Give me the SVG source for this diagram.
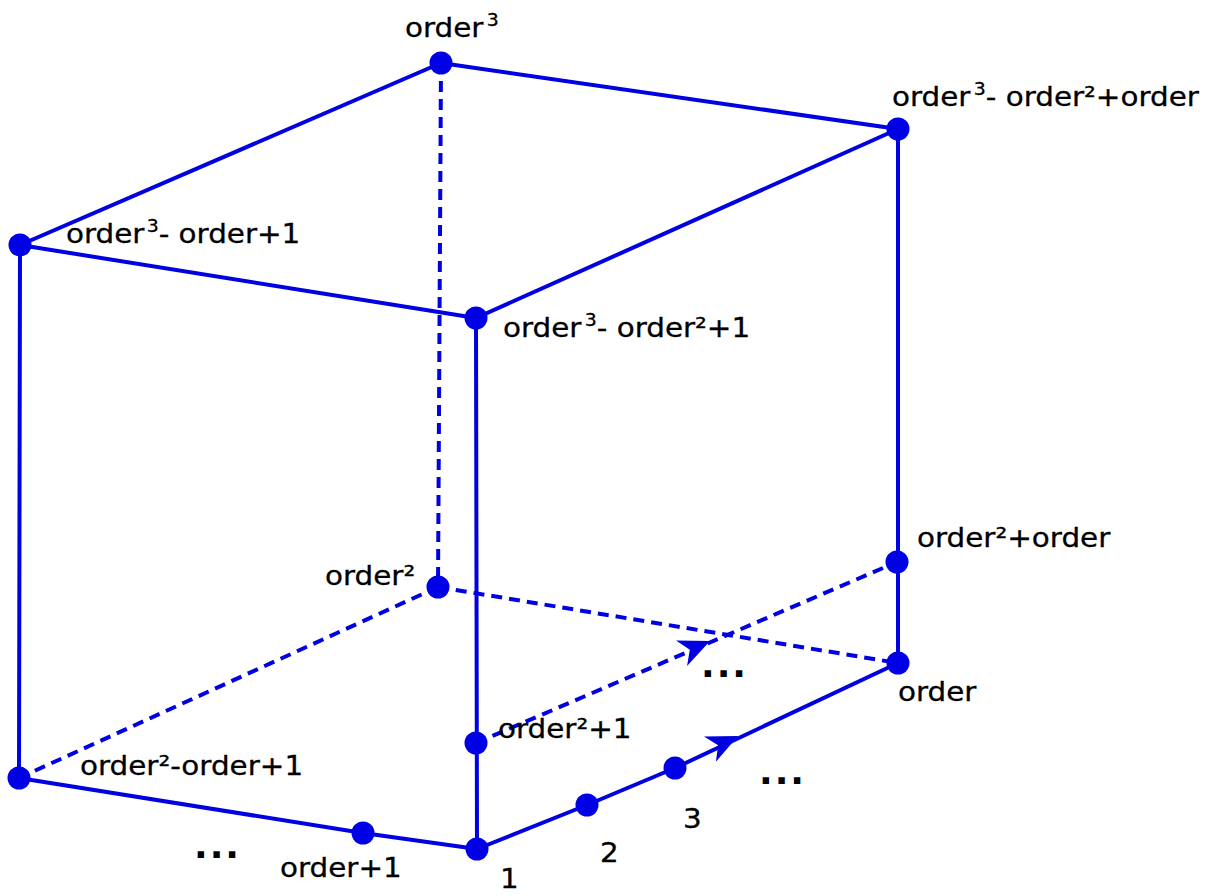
<svg xmlns="http://www.w3.org/2000/svg" width="1222" height="896" viewBox="0 0 1222 896">
<style>
.e{fill:none;stroke:#0000e0;stroke-width:4;stroke-linecap:round}
.d{fill:none;stroke:#0000e0;stroke-width:4;stroke-dasharray:11,7}
.n{fill:#0000e6}
.a{fill:#0000e0}
.t{font-family:"DejaVu Sans",Verdana,sans-serif;font-size:26.5px;fill:#000;stroke:#000;stroke-width:0.3}
.s{font-size:17px}
.dots{font-family:"DejaVu Sans",sans-serif;font-weight:bold;font-size:36px;fill:#000;letter-spacing:2px}
</style>
<defs>
<path id="arr" d="M0,0 L-31,-14 L-22,0 L-31,14 Z"/>
</defs>
<rect width="1222" height="896" fill="#fff"/>
<g id="connectors">
<line class="e" x1="441" y1="63" x2="898" y2="129"/>
<line class="e" x1="441" y1="63" x2="20" y2="245"/>
<line class="e" x1="898" y1="129" x2="476" y2="318"/>
<line class="e" x1="20" y1="245" x2="476" y2="318"/>
<line class="e" x1="20" y1="245" x2="19" y2="778"/>
<line class="e" x1="476" y1="318" x2="477" y2="849"/>
<line class="e" x1="898" y1="129" x2="898" y2="663"/>
<polyline class="e" points="19,778 363,833 477,849"/>
<polyline class="e" points="477,849 587,805 675,768 898,663"/>
<line class="d" x1="441" y1="63" x2="438" y2="587"/>
<line class="d" x1="438" y1="587" x2="19" y2="778"/>
<line class="d" x1="438" y1="587" x2="898" y2="663"/>
<line class="d" x1="476" y1="743" x2="897" y2="562"/>
<use href="#arr" class="a" transform="translate(710,641) rotate(-23.3)"/>
<use href="#arr" class="a" transform="translate(738,736) rotate(-25.2)"/>
</g>
<g id="n-order3"><circle class="n" cx="441" cy="63" r="11.5"/><text class="t" transform="matrix(1.11 0 0 1 405 37)">order<tspan class="s" dx="3" dy="-11">3</tspan></text></g>
<g id="n-o3-o2-o"><circle class="n" cx="898" cy="129" r="11.5"/><text class="t" transform="matrix(1.11 0 0 1 892 106)">order<tspan class="s" dx="3" dy="-11">3</tspan><tspan dy="11">- order²+order</tspan></text></g>
<g id="n-o3-o-1"><circle class="n" cx="20" cy="245" r="11.5"/><text class="t" transform="matrix(1.11 0 0 1 66 243)">order<tspan class="s" dx="2" dy="-11">3</tspan><tspan dy="11">- order+1</tspan></text></g>
<g id="n-o3-o2-1"><circle class="n" cx="476" cy="318" r="11.5"/><text class="t" transform="matrix(1.11 0 0 1 503 337)">order<tspan class="s" dx="3" dy="-11">3</tspan><tspan dy="11">- order²+1</tspan></text></g>
<g id="n-o2"><circle class="n" cx="438" cy="587" r="11.5"/><text class="t" transform="matrix(1.11 0 0 1 325 585)">order²</text></g>
<g id="n-o2-o"><circle class="n" cx="897" cy="562" r="11.5"/><text class="t" transform="matrix(1.11 0 0 1 917 547)">order²+order</text></g>
<g id="n-order"><circle class="n" cx="898" cy="663" r="11.5"/><text class="t" transform="matrix(1.11 0 0 1 898 701)">order</text></g>
<g id="n-o2-1"><circle class="n" cx="476" cy="743" r="11.5"/><text class="t" transform="matrix(1.11 0 0 1 498 738)">order²+1</text></g>
<g id="n-o2-o-1"><circle class="n" cx="19" cy="778" r="11.5"/><text class="t" transform="matrix(1.11 0 0 1 80 775)">order²-order+1</text></g>
<g id="n-o1"><circle class="n" cx="363" cy="833" r="11.5"/><text class="t" transform="matrix(1.11 0 0 1 280 877)">order+1</text></g>
<g id="n-1"><circle class="n" cx="477" cy="849" r="11.5"/><text class="t" transform="matrix(1.11 0 0 1 500 888)">1</text></g>
<g id="n-2"><circle class="n" cx="587" cy="805" r="11.5"/><text class="t" transform="matrix(1.11 0 0 1 600 862)">2</text></g>
<g id="n-3"><circle class="n" cx="675" cy="768" r="11.5"/><text class="t" transform="matrix(1.11 0 0 1 683 828)">3</text></g>
<g id="ellipses">
<text class="dots" x="194" y="858">...</text>
<text class="dots" x="701" y="677">...</text>
<text class="dots" x="759" y="784">...</text>
</g>
</svg>
